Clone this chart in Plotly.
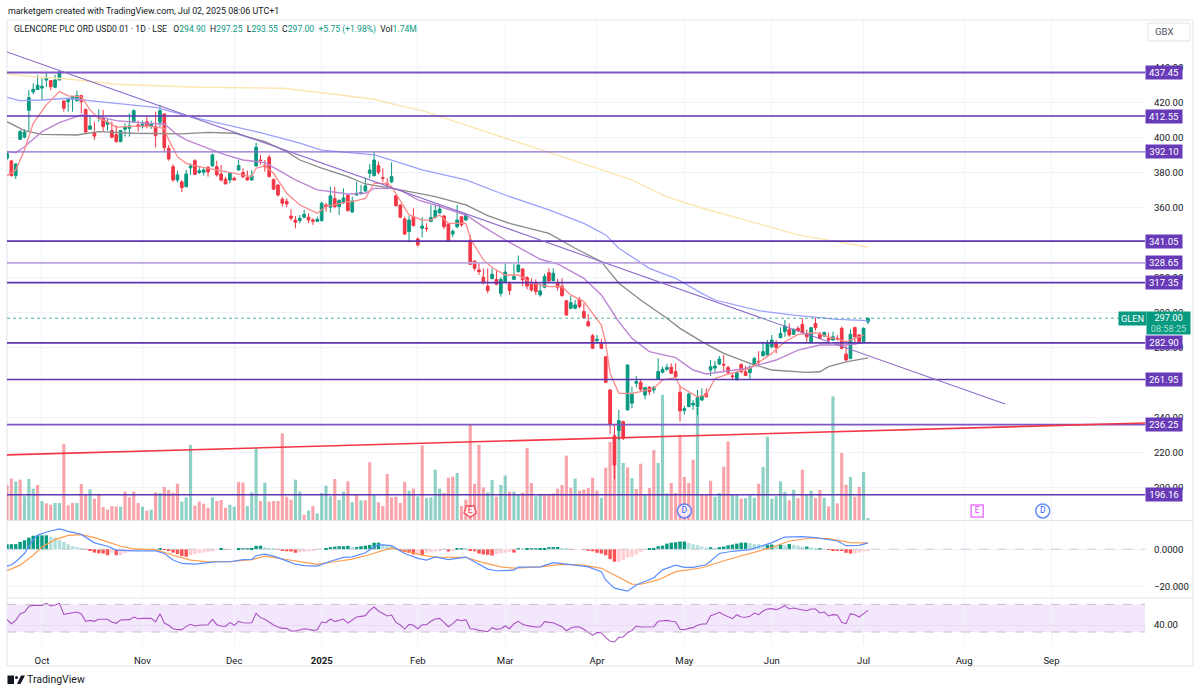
import plotly.graph_objects as go

opens = [388.4,386.9,378.5,399.2,400.4,415.8,426.3,427.6,428.5,433.1,432.8,429,433.1,421.1,420.8,422.1,421.3,424.2,416.4,405,
403,411.4,411.2,407.8,404.2,401.9,397.9,405,405.5,409.3,407.4,406.5,409.3,406.5,406.5,409,413.7,394.1,383.6,376,
374.9,372.2,382.9,387,380.2,380.4,383.2,384,383.6,379.4,376.4,376,377,381.7,380.2,377.5,376,384,387.4,384.2,
389,376.4,373.1,365,363.8,355.4,353.1,352.8,354.7,354.7,353.1,352.4,352.8,361.7,360.4,365.3,360.8,363,367.4,357.7,
367.4,368.2,369.7,379.8,378.5,384.2,377.3,374.1,374.9,367,361.7,353.7,346.5,355,342.3,348.4,348.4,352.2,354.5,357.1,
355.4,350.9,345.1,349.3,355,353.1,341.7,329.7,324.6,320.4,315.4,319.6,319.2,311.2,317.9,316.6,319.2,323.6,325.1,320.2,
316.4,317.3,310.3,314.7,323,318.5,317.3,315.4,307,302.7,302.7,307.8,300.8,295,287,284.2,283,275,256,229.7,
232.8,237.9,244.6,248.4,259.8,260.4,253.1,257.5,256,262.1,266.1,267.8,269,266.5,254.7,244.2,246.5,247.4,246.5,250.2,
254,267.4,268.5,270.8,270.6,268.9,264.1,261.7,270.6,266.4,265.9,270,272.3,275.6,276,280.7,282.6,285.9,289.3,290.6,
287.8,291.2,293.5,287.8,283.6,294,288,286.8,285.5,284.5,285.5,291.2,276.5,274,291.6,287.4,283.6,294.9]
highs = [392,387.4,385.5,404.6,405,427.4,431.2,436,434,437.3,433.1,436,438.9,421.7,422.7,424,427,424.6,416.4,412.2,
409.3,416.4,416,411.2,409.3,407.4,404.6,408.4,414.1,416.4,409.9,409.9,412.2,409.9,415,418.9,414.1,396,385,381.3,
376,381.7,385.5,387.8,383.6,382.7,384,391.2,387,384.6,377.9,380.2,377.9,387.4,382.7,381.3,381.7,397.3,390.3,387.4,
390.3,376.4,373.5,366.1,365.5,359.2,355.4,356,358.9,357,354.1,355,363.6,363,372.2,372.2,365,371.2,367.4,366.5,
375,373.1,377.3,385.1,392.2,386.5,382.7,377,386.1,367.4,362.1,355,355.4,359.8,343.2,354.7,351.2,361.7,361.7,361.7,
356,351.6,347.8,361.7,355.4,357,344.6,329.7,328.4,325.5,325.5,325.5,324.2,320.4,328.8,317.9,328,332.8,325.5,321.1,
319.8,319.2,316.6,322.3,325.5,325.5,319.6,319.8,307.4,309.7,307.4,309,305.5,299.4,288,287.4,285.3,275,256.4,236,
244.6,238.5,270.5,257.9,264,261.7,257.9,258.3,258.3,274.1,269.3,270.9,271.2,271.2,258.9,246.9,254.5,250.3,256,256.9,
256.9,273.1,272.7,275.4,276,269.7,265.5,265.9,271.2,269.7,270.2,275,278.2,283.6,284.5,287.4,284.5,291.8,296,294,
291.2,292.5,296.9,290.6,291.8,297.5,289.3,289.3,288.7,289.3,287.4,292.2,281.7,290.6,292.2,288,291.8,297.25]
lows = [387.4,377.9,376.6,398.9,399.8,403.6,425,427.4,421.7,429,427.4,428.4,433.1,415,415,415,420.8,414.1,403,404.6,
398.9,409.3,403.6,404.2,399.8,397.3,397.5,400.8,400.8,408.8,403.6,405.5,405.5,405.1,394.5,406.1,392.2,387,375,374.5,
369,371.8,378.9,378.9,379.4,378.5,377.9,383.6,377.9,375,373.7,374.1,375.6,381.3,377,375.6,375.6,383.6,384.6,380.8,
377.5,370.3,366.5,360.8,360.4,352.8,348.4,351.2,354.1,351.2,350.3,352.2,352.2,357.9,357.3,359.8,356,362.3,357.9,357.3,
366.9,367.4,369.3,377,377.9,379.2,375,370.7,374.1,360.8,354.1,344.6,340.4,349.3,337.9,343.2,346.5,352.2,354.1,357,
347.8,340.8,343.2,348.4,349.3,352.8,327.4,324.2,321.7,316.4,311.2,319.2,315.8,309.3,317.3,310.3,318.9,323,315.4,313.5,
312.2,310.3,309.3,314.1,317.9,317.9,312.8,309.3,298.3,302.1,302.1,302.7,297,292.2,279.4,282.7,279.4,259.8,230.9,205,
227.4,227.4,244.4,245.5,257.5,255,250.7,253.1,254.1,261.7,265.5,267,265.1,263.2,237.9,242.1,246.1,244.6,241.7,249.9,
251.8,264,265.5,270.2,266.4,264.5,262,261.7,265.5,264,262,269.7,269.7,275,275.6,279.8,276.9,285.5,286.4,286.4,
287.4,289.3,288.3,283.6,282.6,289.9,284.9,286.4,282.2,284.1,284.1,279.2,272.7,273.5,281.7,282.6,283,293.55]
closes = [391.2,378.5,385.1,403.6,403.4,423,427.8,430.1,429.5,434.7,429.3,433.1,437.7,417,422.1,423.6,424.2,420.8,403.4,406.9,
401.1,411.8,406.5,409,400.4,397.9,404.2,406.1,406.9,415.6,406.5,408,406.9,408,401.3,415.6,394.5,388,376,378.9,
371.6,379.4,384,379.2,381.3,381.7,380.6,390.3,378.9,376,373.7,379.8,376,384.2,377.9,376,378.3,394.7,387.1,383.6,
377.9,370.7,367.4,362.7,362.3,354.1,351.8,354.1,356.4,353.1,352.4,353.5,362.7,360.8,366.9,360.8,364.2,365.7,358.5,364,
368.4,368.8,372.6,381.7,387.4,380.4,377,373.5,377.9,361.3,354.7,345.1,353.1,350,338.9,349.7,348.2,354.5,358.5,359.4,
349.3,341.3,346.7,353.1,350.3,356,327.8,325.5,323.6,317.3,312.8,322.1,316.4,319.2,323.4,312.8,320.8,327.4,318.9,315.4,
313.1,312.2,312.6,320.8,318.3,322.7,314.7,309.9,298.9,305.9,304.6,303.6,297.3,292.6,279.8,285,279.8,260.4,236,213.1,
238.5,228.4,270.3,253.5,260.8,256.4,257.3,255,257.5,266.5,267.8,268.8,265.5,263.6,244,245.3,253.7,248.4,251.8,252.5,
252.1,269.3,269.7,273.7,270.2,265.9,263.6,265.9,266.4,264.3,268.9,274,272,277.9,283,284.5,280.3,288.3,292.5,287.4,
290.6,289.9,288.7,286.4,291.6,291.6,285.5,288.9,284.5,286.4,285.1,279.8,273.1,287.8,286.4,283.6,291.2,297]

volumes = [30.7,36,33.6,35.1,20.6,35.7,27.3,30.5,16.5,14.5,13.3,14.8,14.8,66.1,12.8,14.8,14.8,31.3,22.3,26.7,
18.6,22.3,11.3,9,12.2,11.6,11.6,24.7,19.7,24.7,14.8,11.6,8.1,9,24.1,23.5,28.7,26.1,23.8,31.6,
16,19.7,65.3,12.5,16,14.2,10.7,19.7,16.5,17.4,10.7,13.3,11.6,33.1,32.5,12.2,24.1,62.4,16.5,32.5,
16,16.5,16.5,75.4,20.3,17.7,35.1,24.7,4.6,8.1,12.2,5.8,23.5,29.9,20.6,35.7,17.4,24.7,33.6,15.4,
22,17.1,17.1,50.2,22,15.4,12.2,40,19.7,20.3,14.8,33.1,25.5,27.3,20.6,65,19.1,19.7,43.8,27.3,
23.5,36.8,37.7,40.9,12.2,17.7,82.9,31.6,65.3,28.4,24.1,34.8,20.3,30.5,38.6,24.7,24.7,22,23.8,62.6,
32.2,20.6,21.8,21.8,22,23.2,27.3,30.5,56,28.1,36,25.5,26.4,27.8,36.8,25.5,19.4,45.5,67.9,74.2,
80,49.6,45.8,36.5,27,49,22,27.8,60.9,49.6,109,23.2,32.2,23.5,74.2,37.4,32.2,52.5,97.7,22,
22,34.2,20.3,23.5,46.4,68.4,21.8,21.8,18.6,19.1,21.5,19.4,31.6,46.1,72.5,18.6,20.6,33.6,24.4,17.1,
26.4,19.1,43.8,22,25.5,19.1,26.1,19.4,11.9,107.6,14.5,58.3,30.7,37.4,20.3,28.7,41.8,1.74]
volume_up = ("rrgrgggrgr" "rggrrrgrrg" "rrrrrrgrrr" "rgrgrgrrrr" "gggrrrrgrr" "rggrrgggrg" "rrrrrrggrg"
             "rggggrggrg" "rgrrgrrrrr" "rrgrgrgggg" "rrrgrrrrrr" "ggrggrggrr" "rggrrrrrrr" "grrrrrgrrr"
             "ggrgrrgrrg" "ggrrrrrrgr" "rrggrrggrg" "ggrggggggr" "grrggrrgrg" "rrrgrrgg")

hist = [2.7,2.7,2.7,3.9,4.8,6.2,7.2,7.4,7.4,7.4,6.7,6.2,4.8,3.9,2.7,1.6,1.1,0.4,-0.2,-0.9,
-1.8,-2.2,-2.3,-3.2,-1.8,-3.2,-3.2,-2,-1.1,-0.7,-0.5,-0.4,-0.2,0,0,0.2,-0.2,-0.9,-1.8,-2.6,
-3.7,-4,-3.2,-2.6,-2.1,-1.8,-1.4,-1.1,-0.4,0.2,-0.4,-0.4,0,0.2,0.3,0.4,0.5,1.8,1.9,1.1,
0.5,0.2,-0.2,-0.5,-1.1,-1.2,-1.9,-1.6,-1.4,-1.1,-0.7,-0.4,0,0.2,1.1,1.4,1.6,1.6,1.8,1.2,
1.2,1.6,1.9,2.3,3.5,3.5,2.7,2.1,1.6,0.4,-0.9,-1.6,-1.9,-2.8,-2.8,-3.2,-1.9,-1.6,-1.2,-0.9,
-0.4,-1.2,-0.9,0.2,0.4,0.2,-0.5,-1.1,-2.3,-2.8,-3,-3.4,-2.7,-2.1,-1.9,-1.4,-1.8,0.4,0.2,0.2,
0.2,0.4,0.4,0.7,1.1,1.2,1.2,0.5,0.2,-0.2,-0.2,0,-0.2,-0.7,-1.1,-1.9,-2.3,-3.2,-5.3,-6.7,
-6.7,-5.8,-4.4,-4,-2.8,-1.4,-0.2,0.2,0.7,1.6,1.9,3,3.5,3.7,4.1,4.1,3.3,2.7,2.1,1.4,
0.9,1.1,0.5,1.1,1.4,2.1,2.5,3,3.5,3.5,3.2,2.8,2.7,2.1,2.3,2.5,2.1,2.5,2.1,2.8,
2.3,1.9,1.4,1.4,0.9,0.5,0.5,0,-0.2,-0.5,-0.7,-0.9,-1.9,-2.3,-2.3,-1.8,-1.1,-0.5]

macd_x = [0,1,2,3,4,5,6,7,9,12,14,17,19,20,23,25,29,34,36,38,40,43,46,48,51,54,56,57,59,61,64,66,68,71,74,77,79,82,84,85,88,91,94,96,98,101,
105,110,112,116,117,122,125,127,130,133,136,137,139,142,144,148,150,153,155,157,160,163,166,170,175,178,182,185,190,192,195,197]
macd_y = [-9,-8.3,-6.7,-4.6,-2.3,1.6,5.1,7.4,9.2,10.9,9.5,7.9,4.8,3.4,1.6,-0.5,-0.9,-0.9,-2.3,-5.8,-7.6,-8,-7.2,-6.7,-6.7,-5.6,-5.5,-3.5,-2.6,-3.7,-6.2,-8,-8.8,-9,-6.4,-4.4,-4.1,-1.9,1.2,2.5,1.9,-2.3,-4.9,-5.8,-4.1,-5.5,
-4.2,-10.6,-11.5,-11.2,-9.6,-9.4,-7.2,-7.6,-8.5,-9.4,-12,-16.4,-20.8,-22.4,-19.1,-15.2,-11,-8.5,-9.7,-9.7,-8.3,-2.3,-1.1,-0.2,3.5,6.5,6.7,6.2,4.4,1.9,2.1,3.4]
signal_x = [0,3,6,8,11,14,17,20,23,26,29,34,38,42,46,51,56,59,64,69,71,75,79,83,86,88,91,95,98,101,
105,109,113,116,122,127,132,136,139,143,145,149,153,159,165,170,175,179,184,188,193,197]
signal_y = [-11.5,-8.5,-3.2,1.2,5.1,7.4,7.8,6.2,3.9,1.6,0.2,-0.2,-3.2,-5.8,-6.7,-6.7,-5.6,-3.7,-5.5,-7.6,-8.1,-6.7,-5.3,-2.8,-0.5,0.7,-0.9,-3.2,-4.2,-4.4,
-4.4,-7.2,-9.4,-10.1,-9.4,-8.1,-8.5,-10.2,-13.8,-18.6,-18.7,-16.4,-12,-9.9,-5.5,-2.5,0.9,4.4,6,5.7,3.5,3.4]

rsi = [47.9,42.1,46.9,56.6,58.5,67.2,68.6,68.6,68.6,71.5,67.7,69.1,71.5,55.6,56.6,58,59,56.1,45.5,46.9,
45.5,48.4,48.4,48.4,44.5,42.6,47.4,47.9,47.9,51.7,49.3,49.8,49.8,49.8,44.5,56.6,43,39.7,34.8,33.4,
33.4,38.2,41.1,38.7,39.7,40.1,40.6,48.4,40.6,38.7,38.2,44,39.7,45.5,43.5,43,43.5,57,50.8,48.4,
44,40.1,37.2,35.3,35.3,31.4,31.4,33.4,34.8,33.9,32.4,33.4,44.5,43.5,48.8,45,46.9,48.8,43,47.9,
51.7,52.7,53.7,61.4,66.2,60.4,56.6,53.2,54.6,44,40.1,34.3,41.1,39.7,34.8,40.6,40.6,45.5,48.8,49.8,
44,37.7,42.1,47.9,46.4,47.9,34.8,34.3,32.4,31,30.5,36.3,33.9,34.8,38.7,34.8,42.1,45.5,41.1,39.2,
37.7,37.2,37.2,45,44,43.5,40.6,37.7,31.9,35.8,37.7,37.2,33.9,29.5,25.2,29.5,28.6,22.3,16.5,15.5,
22.3,22.8,29,32.4,38.7,37.2,37.7,37.2,37.7,45.5,46.4,46.9,45.5,44.5,33.9,33.4,35.3,36.3,39.7,41.6,
41.6,53.7,55.6,58.5,55.1,51.7,49.3,55.1,51.7,51.3,52.7,57.5,55.1,60.4,63.3,63.8,62.4,64.8,68.2,63.3,
64.8,63.3,62.4,60.9,63.3,63.3,57.5,59,53.2,55.1,54.6,44,42.1,56.6,55.1,51.7,56.6,61.4]

ema_x = [0,2,4,6,9,12,14,17,19,21,23,25,27,32,36,37,39,41,44,48,52,56,57,59,61,64,67,71,73,78,79,82,84,87,88,90,92,95,97,99,101,105,106,109,111,114,117,120,124,127,129,132,136,137,138,140,143,145,148,150,153,154,158,160,162,165,170,175,178,181,185,188,192,196]
ema_y = [378.5,381.7,393.1,408.4,418.9,426.5,424,423.6,416,411.2,409.3,406.1,406.5,406.9,405.5,398.9,389.3,385.5,383.6,381.7,380.2,377.9,382.7,384,379.8,368.4,361.7,357,360.8,363.6,363.6,365.5,374.1,374.1,372.2,364,356,353.1,353.1,356,351.2,351.2,342.7,330.3,326,321.7,321.7,317,315,315,310.3,306.5,293.1,282.7,265.5,254.1,254.1,255,257,261.7,263.2,257.9,252.1,253.1,262.6,265.1,268.3,276.9,283.6,287.8,288.7,286.4,283.6,287.4]
mid_x = [0,2,4,8,12,17,21,25,32,36,39,41,46,50,54,59,62,66,71,75,78,82,84,88,90,94,98,105,109,114,118,122,126,132,136,140,143,147,153,157,160,164,169,176,181,186,192,196]
mid_y = [392.2,391.6,395,403.6,408.8,413.2,412.2,409.9,408.4,408,401.7,398.9,394.1,390.3,387.4,385.9,381.7,376,370.3,368.8,368,368.4,371.2,371.2,370.3,364.6,361.7,356,349.3,341.7,336,330.7,328,319.8,310.3,295,285.5,277.9,274.5,267.4,265.1,266.4,268.3,273.1,278.8,281.7,281.7,283]
gray_x = [0,4,8,16,21,29,40,46,52,59,64,67,72,78,82,88,90,98,105,110,115,124,130,136,140,145,151,154,159,164,170,175,183,186,188,192,197]
gray_y = [409.3,404.2,402.1,401.7,403.6,402.7,402.3,403.2,402.7,397.9,392.2,387.4,382.7,377.9,373.7,371.2,370.3,366.5,361.7,355.6,351.2,345.5,337,329.3,317,307.4,297,291.2,283.6,276.9,271.2,267.4,266,266.4,269.3,272.1,274.4]
blue_x = [0,3,8,14,21,34,41,52,58,67,72,84,88,95,105,114,124,132,137,140,147,153,159,162,172,180,190,197]
blue_y = [423.2,421.3,421.7,422.7,420.8,417.5,412.8,406.5,403,397,393.1,390.3,387.4,381.7,376,367.4,358.9,351.2,344.6,337,325.5,319.8,311.2,307.4,301.3,298.8,296.3,295.6]
yellow_x = [0,6,14,25,44,63,75,84,90,95,120,143,151,159,181,197]
yellow_y = [436.6,435,433.7,430.7,429,428.4,425,422.1,418.3,415.6,395,376,366.3,360,344.6,337.7]

levels = [437.45,412.55,392.10,341.05,328.65,317.35,282.90,261.95,236.25,196.16]
level_colors = ["#7e57c2","#5e35b1","#8e6fd0","#5e35b1","#b9a3de","#5e35b1","#5e35b1","#5e35b1","#7e57c2","#5e35b1"]
level_widths = [2,1.6,1.2,1.6,1.8,1.6,1.6,1.6,1.8,1.6]
trend_purple_x = [0,228.4]
trend_purple_y = [449.1,248]
trend_red_x = [0,260.4]
trend_red_y = [218.9,237.1]
month_pos = [8,31,52,72,94,114,135,155,175,196,219,239]
month_txt = ["Oct","Nov","Dec","<b>2025</b>","Feb","Mar","Apr","May","Jun","Jul","Aug","Sep"]
price_ticks = [200,220,240,280,300,320,360,380,400,420,440]
event_x = [106,155,222,237]
event_txt = ["E","D","E","D"]
last_price = 297.0
XMAX = 260.4
W, H = 1200, 692
FONT = "Roboto"
GREEN, RED = "#089981", "#f23645"
GRID = "#f0f3fa"
BORDER = "#e0e3eb"

def px(v): return v / W
def py(v): return 1 - v / H

xs = list(range(len(closes)))
fig = go.Figure()

fig.add_bar(x=xs, y=volumes, width=0.72, xaxis="x", yaxis="y", showlegend=False,
            marker=dict(color=["rgba(8,153,129,0.45)" if c == "g" else "rgba(242,54,69,0.45)" for c in volume_up], line_width=0))

for mx, my, col, lw in [(yellow_x, yellow_y, "#fde5b0", 1.4), (blue_x, blue_y, "#9da0fb", 1.3), (gray_x, gray_y, "#8a8a8a", 1.3),
                        (mid_x, mid_y, "#bd86d4", 1.4), (ema_x, ema_y, "#fb8a8a", 1.3)]:
    fig.add_scatter(x=mx, y=my, mode="lines", line=dict(color=col, width=lw), xaxis="x", yaxis="y2", showlegend=False)

fig.add_candlestick(x=xs, open=opens, high=highs, low=lows, close=closes, xaxis="x", yaxis="y2", showlegend=False, whiskerwidth=0,
                    increasing=dict(line=dict(color=GREEN, width=1), fillcolor=GREEN),
                    decreasing=dict(line=dict(color=RED, width=1), fillcolor=RED))

for lv, c, w in zip(levels, level_colors, level_widths):
    fig.add_scatter(x=[0, XMAX], y=[lv, lv], mode="lines", line=dict(color=c, width=w), xaxis="x", yaxis="y2", showlegend=False)
fig.add_scatter(x=trend_purple_x, y=trend_purple_y, mode="lines", line=dict(color="#8d6cc9", width=1.1), xaxis="x", yaxis="y2", showlegend=False)
fig.add_scatter(x=trend_red_x, y=trend_red_y, mode="lines", line=dict(color=RED, width=1.6), xaxis="x", yaxis="y2", showlegend=False)
fig.add_scatter(x=[0, XMAX], y=[last_price, last_price], mode="lines", line=dict(color=GREEN, width=1, dash="dot"), xaxis="x", yaxis="y2", showlegend=False, opacity=0.7)

ev_y = [186.9] * 4
fig.add_scatter(x=event_x, y=ev_y, mode="markers+text", text=event_txt, textposition="middle center", xaxis="x", yaxis="y2", showlegend=False,
                textfont=dict(family=FONT, size=8.5, color=[RED, "#2962ff", "#e040fb", "#2962ff"]),
                marker=dict(symbol=["pentagon", "circle", "square", "circle"], angle=[180, 0, 0, 0], size=[13, 14, 12, 14], color="white",
                            line=dict(color=[RED, "#2962ff", "#e040fb", "#2962ff"], width=1.5)))

hcols = []
for k, h in enumerate(hist):
    prev = hist[k - 1] if k else h
    if h >= 0:
        hcols.append(GREEN if h >= prev else "#b2dfdb")
    else:
        hcols.append("#ff5252" if h < prev else "#ffcdd2")
fig.add_bar(x=xs, y=hist, width=0.78, xaxis="x2", yaxis="y3", showlegend=False, marker=dict(color=hcols, line_width=0))
fig.add_scatter(x=[0, XMAX], y=[0, 0], mode="lines", line=dict(color="#c9ccd4", width=1, dash="dash"), xaxis="x2", yaxis="y3", showlegend=False)
fig.add_scatter(x=signal_x, y=signal_y, mode="lines", line=dict(color="#ff9d4d", width=1.2), xaxis="x2", yaxis="y3", showlegend=False)
fig.add_scatter(x=macd_x, y=macd_y, mode="lines", line=dict(color="#5b8dff", width=1.2), xaxis="x2", yaxis="y3", showlegend=False)

fig.add_scatter(x=xs, y=rsi, mode="lines", line=dict(color="#ab52c2", width=1.1), xaxis="x3", yaxis="y4", showlegend=False)

axis_x = dict(range=[0, XMAX], tickvals=month_pos, showgrid=True, gridcolor=GRID, gridwidth=1, zeroline=False,
              rangeslider=dict(visible=False), showline=False, domain=[px(7), px(1145)])
AXF = dict(family=FONT, size=9.6, color="#131722")
hidden_tick = dict(ticks="outside", ticklen=6, tickcolor="rgba(0,0,0,0)")
layout_axes = dict(
    xaxis=dict(axis_x, anchor="y", showticklabels=False),
    xaxis2=dict(axis_x, anchor="y3", showticklabels=False),
    xaxis3=dict(axis_x, anchor="y4", ticktext=month_txt, showticklabels=True, tickfont=AXF, **hidden_tick),
    yaxis=dict(domain=[py(520), py(20)], range=[0, 435], visible=False, fixedrange=True),
    yaxis2=dict(domain=[py(520), py(20)], overlaying="y", side="right", range=[181.7, 467.4], tickvals=price_ticks,
                tickformat=".2f", showgrid=True, gridcolor=GRID, zeroline=False, tickfont=AXF, **hidden_tick),
    yaxis3=dict(domain=[py(598), py(521)], anchor="x2", side="right", range=[-26.05, 15.07], tickvals=[-20, 0],
                ticktext=["\u221220.000", "0.0000"], showgrid=True, gridcolor=GRID, zeroline=False, tickfont=AXF, **hidden_tick),
    yaxis4=dict(domain=[py(645), py(599)], anchor="x3", side="right", range=[11.2, 77.8], tickvals=[40], tickformat=".2f",
                showgrid=True, gridcolor="#e8dcf5", zeroline=False, tickfont=AXF, **hidden_tick),
)

shapes = [
    dict(type="rect", xref="x3", yref="y4", x0=0, x1=XMAX, y0=30, y1=70, fillcolor="#f3e7fc", line_width=0, layer="below"),
    dict(type="line", xref="x3", yref="y4", x0=0, x1=XMAX, y0=70, y1=70, line=dict(color="#c9bfc9", width=1, dash="dash")),
    dict(type="line", xref="x3", yref="y4", x0=0, x1=XMAX, y0=30, y1=30, line=dict(color="#c9bfc9", width=1, dash="dash")),
    dict(type="rect", xref="paper", yref="paper", x0=px(7), x1=px(1193), y0=py(666), y1=py(20), line=dict(color=BORDER, width=1), layer="below"),
    dict(type="line", xref="paper", yref="paper", x0=px(7), x1=px(1193), y0=py(520.5), y1=py(520.5), line=dict(color=BORDER, width=1)),
    dict(type="line", xref="paper", yref="paper", x0=px(7), x1=px(1193), y0=py(598), y1=py(598), line=dict(color=BORDER, width=1)),
    dict(type="rect", xref="paper", yref="paper", x0=px(1148), x1=px(1190), y0=py(41), y1=py(23), line=dict(color=BORDER, width=1), fillcolor="white"),
    dict(type="rect", xref="paper", yref="paper", x0=px(7.5), x1=px(14), y0=py(684), y1=py(675.5), fillcolor="#131722", line_width=0),
    dict(type="circle", xref="paper", yref="paper", x0=px(15), x1=px(18), y0=py(679), y1=py(676), fillcolor="#131722", line_width=0),
    dict(type="path", xref="paper", yref="paper", path=f"M {px(17)} {py(684)} L {px(21)} {py(675.5)} L {px(25)} {py(675.5)} L {px(20.5)} {py(684)} Z", fillcolor="#131722", line_width=0),
]

annos = []
def txt(x, y, s, size=10, color="#131722", xanchor="left"):
    annos.append(dict(xref="paper", yref="paper", x=px(x), y=py(y), text=s, showarrow=False, xanchor=xanchor, yanchor="middle",
                      font=dict(family=FONT, size=size, color=color), align="left", borderpad=0))

txt(7, 10.5, "marketgem created with TradingView.com, Jul 02, 2025 08:06 UTC+1", 8.9)
g = '<span style="color:#089981">%s</span>'
txt(13, 30, "GLENCORE PLC ORD USD0.01 \u00b7 1D \u00b7 LSE   O" + g % "294.90" + "  H" + g % "297.25" + "  L" + g % "293.55" + "  C" + g % "297.00"
    + "  " + g % "+5.75 (+1.98%)" + "  Vol" + g % "1.74M", 8.6)
txt(1154, 32, "GBX", 9.6, "#50535e")
txt(26, 679.5, "TradingView", 10.5, "#131722")

for lv in levels:
    yp = 103 + (420 - lv) * 1.75
    annos.append(dict(xref="paper", yref="paper", x=px(1145), y=py(yp), text=f"{lv:.2f}", showarrow=False, xanchor="left", yanchor="middle",
                      width=36, height=13, bgcolor="#673ab7", font=dict(family=FONT, size=9.6, color="white"), borderpad=0))
annos.append(dict(xref="paper", yref="paper", x=px(1117.5), y=py(318.5), text="GLEN", showarrow=False, xanchor="left", yanchor="middle",
                  width=27, height=13, bgcolor=GREEN, font=dict(family=FONT, size=9.2, color="white"), borderpad=0))
annos.append(dict(xref="paper", yref="paper", x=px(1145.5), y=py(323), text="297.00<br><span style='color:#a6e0d3'>08:58:25</span>", showarrow=False,
                  xanchor="left", yanchor="middle", width=43, height=22, bgcolor=GREEN, align="center", font=dict(family=FONT, size=9.2, color="white"), borderpad=0))

fig.update_layout(width=W, height=H, autosize=False, margin=dict(l=0, r=0, t=0, b=0), paper_bgcolor="white", plot_bgcolor="white",
                  showlegend=False, barmode="overlay", boxgap=0.12, shapes=shapes, annotations=annos, hovermode=False, **layout_axes)
fig.write_html("out.html", config=dict(displayModeBar=False), post_script="document.body.style.margin='0';")
